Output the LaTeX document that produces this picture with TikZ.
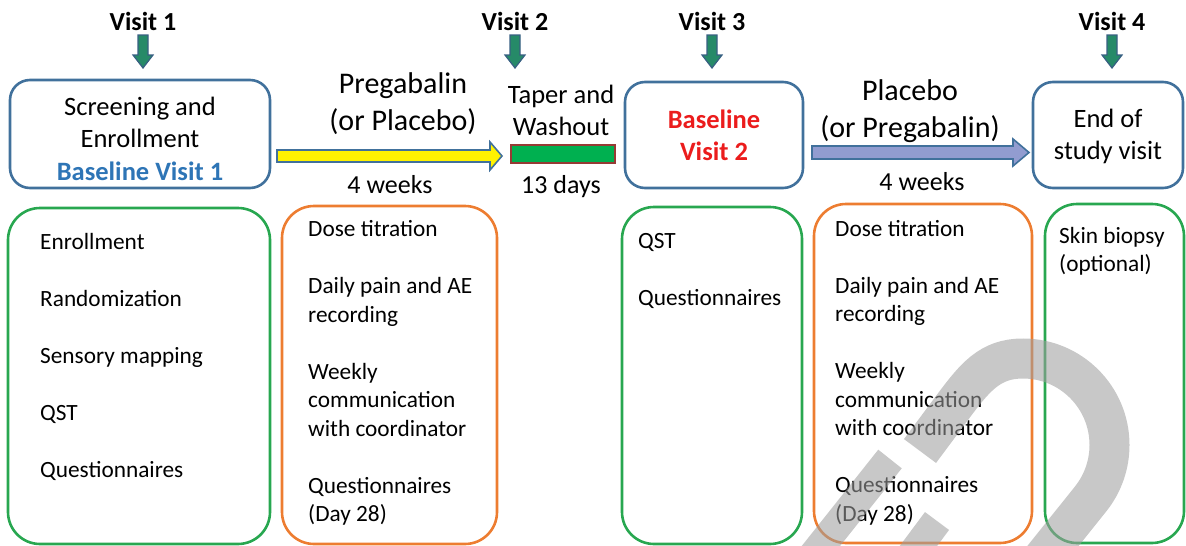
\documentclass[tikz,border=0pt]{standalone}
\usepackage{fontspec}
\setmainfont{Carlito}
\usepackage{xcolor}

\definecolor{boxblue}{RGB}{65,113,156}
\definecolor{boxgreen}{RGB}{40,167,80}
\definecolor{boxorange}{RGB}{237,125,49}
\definecolor{titleblue}{RGB}{46,117,182}
\definecolor{titlered}{RGB}{235,28,28}
\definecolor{visitfill}{RGB}{38,138,104}
\definecolor{visitline}{RGB}{55,95,130}
\definecolor{barfill}{RGB}{0,176,80}
\definecolor{barline}{RGB}{150,58,52}
\definecolor{placebofill}{RGB}{146,156,208}
\definecolor{wmgray}{RGB}{158,158,158}

\begin{document}
\begin{tikzpicture}[x=1pt,y=-1pt,
    visit/.style={font=\fontsize{26}{30}\selectfont\bfseries, inner sep=0pt, anchor=base},
    visarrow/.style={fill=visitfill, draw=visitline, line width=1.2pt},
    topbox/.style={draw=boxblue, line width=2.6pt, rounded corners=20pt},
    toptext/.style={font=\fontsize{26.5}{32.5}\selectfont, align=center, inner sep=0pt, anchor=north},
    armtext/.style={font=\fontsize{30}{37}\selectfont, align=center, inner sep=0pt, anchor=north},
    durtext/.style={font=\fontsize{26}{30}\selectfont, inner sep=0pt, anchor=base},
    gbox/.style={draw=boxgreen, line width=2.6pt, rounded corners=32pt},
    obox/.style={draw=boxorange, line width=2.6pt, rounded corners=32pt},
    items/.style={font=\fontsize{23.3}{28.5}\selectfont, align=left, inner sep=0pt, anchor=north west},
    wmark/.style={draw=wmgray, draw opacity=0.57}]
    \useasboundingbox (0,0) rectangle (1186,546);

    % visits on top
    \foreach \x/\n in {143/1,515/2,712/3,1112/4}{
        \node[visit] (visit\n) at (\x,30) {Visit \n};
        \draw[visarrow] (\x-5,35) -- (\x+5,35) -- (\x+5,55) -- (\x+10,55)
            -- (\x,68) -- (\x-10,55) -- (\x-5,55) -- cycle;
    }

    % visit boxes
    \node[topbox, minimum width=260pt, minimum height=108pt] (scr) at (140,134) {};
    \node[topbox, minimum width=178pt, minimum height=106pt] (base2) at (714,135) {};
    \node[topbox, minimum width=150pt, minimum height=106pt] (eos) at (1108,135) {};

    \node[toptext] (scrtxt) at (140,92.25) {\strut Screening and\\Enrollment\\
        \textcolor{titleblue}{\bfseries Baseline Visit 1}};
    \node[toptext] (base2txt) at (714,105.25) {\strut\textcolor{titlered}{\bfseries Baseline}\\
        \textcolor{titlered}{\bfseries Visit 2}};
    \node[toptext] (eostxt) at (1108,104.25) {\strut End of\\study visit};

    % washout bar
    \node[draw=barline, fill=barfill, line width=1.8pt, inner sep=0pt,
        minimum width=104pt, minimum height=18pt] (wash) at (563,154) {};
    \node[toptext] (washtxt) at (561,80.25) {\strut Taper and\\Washout};
    \node[durtext] (days) at (561,193) {13 days};

    % first period
    \draw[fill=yellow, draw=boxblue, line width=1.6pt] (277,150) -- (490,150) -- (490,142)
        -- (502,156) -- (490,170) -- (490,162) -- (277,162) -- cycle;
    \node[armtext] (arm1) at (403,67.1) {\strut Pregabalin\\(or Placebo)};
    \node[durtext] (wk1) at (390,193) {4 weeks};

    % second period
    \draw[fill=placebofill, draw=boxblue, line width=1.6pt] (812,146) -- (1013,146) -- (1013,139)
        -- (1029,152.5) -- (1013,166) -- (1013,159) -- (812,159) -- cycle;
    \node[armtext] (arm2) at (910,74.1) {\strut Placebo\\(or Pregabalin)};
    \node[durtext] (wk2) at (922,190) {4 weeks};

    % activity boxes
    \node[gbox, minimum width=262pt, minimum height=336pt] (act1) at (139,376) {};
    \node[obox, minimum width=215pt, minimum height=338pt] (act2) at (389.5,375) {};
    \node[gbox, minimum width=180pt, minimum height=337pt] (act3) at (712,375.5) {};
    \node[obox, minimum width=218pt, minimum height=339pt] (act4) at (923,373.5) {};
    \node[gbox, minimum width=139pt, minimum height=339pt] (act5) at (1114.5,373.5) {};

    \node[items] (act1txt) at (40,229.05) {\strut Enrollment\\[28.5pt]Randomization\\[28.5pt]
        Sensory mapping\\[28.5pt]QST\\[28.5pt]Questionnaires};
    \node[items] (act2txt) at (308,216.5) {\strut Dose titration\\[28.5pt]Daily pain and AE\\
        recording\\[28.5pt]Weekly\\communication\\with coordinator\\[28.5pt]
        Questionnaires\\(Day 28)};
    \node[items] (act3txt) at (638,228) {\strut QST\\[28.5pt]Questionnaires};
    \node[items] (act4txt) at (835,216) {\strut Dose titration\\[28.5pt]Daily pain and AE\\
        recording\\[28.5pt]Weekly\\communication\\with coordinator\\[28.5pt]
        Questionnaires\\(Day 28)};
    \node[items] (act5txt) at (1059,223) {\strut Skin biopsy\\(optional)};

    % watermark
    \begin{scope}
        \clip (0,0) rectangle (1186,546);
        \draw[wmark, line width=40pt] (920,451) -- (952,408)
            .. controls (975,377) and (990,358.5) .. (1023,358.5)
            arc[start angle=270, end angle=398.5, radius=86.5] -- (1040.9,561);
        \draw[wmark, line width=30pt] (890,459) -- (805,566);
        \draw[wmark, line width=30pt] (937,521) -- (905,564);
    \end{scope}
\end{tikzpicture}
\end{document}
